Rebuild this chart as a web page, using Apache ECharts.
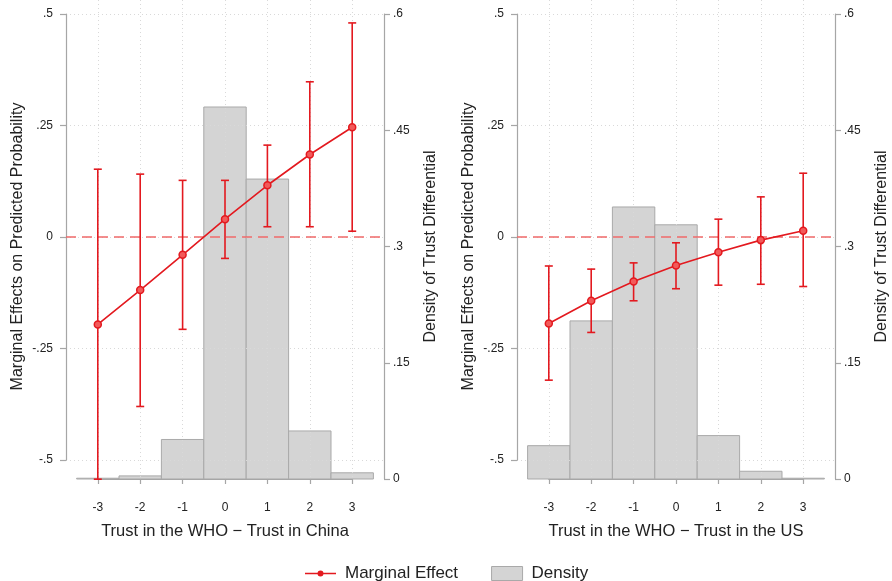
<!DOCTYPE html>
<html>
<head>
<meta charset="utf-8">
<script src="https://cdn.jsdelivr.net/npm/echarts@6/dist/echarts.min.js"></script>
<style>
  html, body { margin: 0; padding: 0; background: #fff; }
  #main { width: 892px; height: 581px; }
</style>
</head>
<body>
<div id="main"></div>
<script>
// trust differential categories (x)
var xValues = [-3, -2, -1, 0, 1, 2, 3];

// panel 1: WHO - China
var chinaEffect = [-0.196, -0.119, -0.040, 0.040, 0.116, 0.185, 0.246];
var chinaLower = [-0.543, -0.380, -0.207, -0.048, 0.023, 0.023, 0.013];
var chinaUpper = [0.152, 0.141, 0.127, 0.127, 0.206, 0.348, 0.480];
var chinaDensity = [0.001, 0.004, 0.051, 0.480, 0.387, 0.062, 0.008];

// panel 2: WHO - US
var usEffect = [-0.194, -0.143, -0.100, -0.064, -0.034, -0.007, 0.014];
var usLower = [-0.321, -0.214, -0.143, -0.116, -0.108, -0.106, -0.111];
var usUpper = [-0.065, -0.072, -0.058, -0.013, 0.040, 0.090, 0.143];
var usDensity = [0.043, 0.204, 0.351, 0.328, 0.056, 0.010, 0.001];

// tick values
var leftTicks = [-0.5, -0.25, 0, 0.25, 0.5];
var rightTicks = [0, 0.15, 0.3, 0.45, 0.6];
var xTicks = [-3, -2, -1, 0, 1, 2, 3];

var xTitles = ["Trust in the WHO \u2212 Trust in China", "Trust in the WHO \u2212 Trust in the US"];

var RED = "#e3191f";
var AXIS = "#a6a6a6";
var TEXT = "#222";
var FONT = "Liberation Sans, Arial, sans-serif";

function fmt(v) {
  v = Number(v.toFixed(2));
  if (v === 0) return "0";
  return String(v).replace("0.", ".");
}

var panels = [
  { left: 66, effect: chinaEffect, lower: chinaLower, upper: chinaUpper, density: chinaDensity },
  { left: 517, effect: usEffect, lower: usLower, upper: usUpper, density: usDensity }
];

var plotW = 318, plotTop = 14, plotH = 465;
var xMin = -3.75, xMax = 3.75;
var effMax = leftTicks[leftTicks.length - 1];
var effMin = leftTicks[0] - (effMax - leftTicks[0]) * 19 / 446;

var grid = [], xAxis = [], yAxis = [], series = [];

panels.forEach(function (p, i) {
  var gx = 3 * i, gy = 4 * i;
  var xl = p.left + (xTicks[0] - xMin) / (xMax - xMin) * plotW;
  var xw = (xTicks[xTicks.length - 1] - xTicks[0]) / (xMax - xMin) * plotW;

  grid.push({ left: p.left, top: plotTop, width: plotW, height: plotH });
  grid.push({ left: p.left, top: plotTop, width: plotW, height: 446 });
  grid.push({ left: xl, top: 0, width: xw, height: plotTop + plotH });

  // data grid x (hidden)
  xAxis.push({ gridIndex: gx, type: "value", min: xMin, max: xMax, show: false });
  // left decor grid x (hidden)
  xAxis.push({ gridIndex: gx + 1, type: "value", min: 0, max: 1, show: false });
  // visible x axis
  xAxis.push({
    gridIndex: gx + 2, type: "value", min: xTicks[0], max: xTicks[xTicks.length - 1], interval: 1,
    offset: 12, z: 2,
    axisLine: { lineStyle: { color: AXIS, width: 1.2 } },
    axisTick: { show: true, length: 5, lineStyle: { color: AXIS, width: 1.2 } },
    axisLabel: { color: TEXT, fontSize: 12, fontFamily: FONT, margin: 11 },
    splitLine: { show: true, lineStyle: { color: "#d9d9d9", type: [1, 3], width: 1 } },
    name: xTitles[i], nameLocation: "middle", nameGap: 32,
    nameTextStyle: { color: TEXT, fontSize: 16.5, fontFamily: FONT }
  });

  // marginal effect axis (carries title only)
  yAxis.push({
    gridIndex: gx, type: "value", min: effMin, max: effMax, position: "left",
    axisLine: { show: false }, axisTick: { show: false }, axisLabel: { show: false },
    splitLine: { show: false },
    name: "Marginal Effects on Predicted Probability", nameLocation: "middle", nameGap: 40,
    nameTextStyle: { color: TEXT, fontSize: 16, fontFamily: FONT }
  });
  // density axis (right)
  yAxis.push({
    gridIndex: gx, type: "value", min: rightTicks[0], max: rightTicks[rightTicks.length - 1],
    interval: 0.15, position: "right", z: 2,
    axisLine: { show: true, lineStyle: { color: AXIS, width: 1.2 } },
    axisTick: { show: true, length: 6, lineStyle: { color: AXIS, width: 1.2 } },
    axisLabel: { color: TEXT, fontSize: 12, fontFamily: FONT, margin: 9, formatter: fmt },
    splitLine: { show: false },
    name: "Density of Trust Differential", nameLocation: "middle", nameGap: 39,
    nameTextStyle: { color: TEXT, fontSize: 16, fontFamily: FONT }
  });
  // visible left axis
  yAxis.push({
    gridIndex: gx + 1, type: "value", min: leftTicks[0], max: effMax, interval: 0.25,
    position: "left", z: 2,
    axisLine: { show: true, lineStyle: { color: AXIS, width: 1.2 } },
    axisTick: { show: true, length: 6, lineStyle: { color: AXIS, width: 1.2 } },
    axisLabel: { color: TEXT, fontSize: 12, fontFamily: FONT, margin: 13, formatter: fmt },
    splitLine: { show: true, lineStyle: { color: "#d9d9d9", type: [1, 3], width: 1 } }
  });
  yAxis.push({ gridIndex: gx + 2, type: "value", min: 0, max: 1, show: false });

  // point estimates
  series.push({
    name: "Marginal Effect", type: "line", xAxisIndex: gx, yAxisIndex: gy, z: 4,
    symbol: "circle", symbolSize: 7,
    lineStyle: { color: RED, width: 1.6 },
    itemStyle: { color: "#f25a5a", borderColor: RED, borderWidth: 1.5 },
    data: xValues.map(function (x, k) { return [x, p.effect[k]]; }),
    markLine: {
      silent: true, symbol: "none", label: { show: false }, z: 3,
      lineStyle: { color: "#f06a6a", type: [10, 6], width: 1.6 },
      data: [{ yAxis: 0 }]
    }
  });

  // density bars
  series.push({
    name: "Density", type: "custom", xAxisIndex: gx, yAxisIndex: gy + 1, z: 1,
    itemStyle: { color: "#d4d4d4", borderColor: "#a9a9a9" },
    data: xValues.map(function (x, k) { return [x, p.density[k]]; }),
    renderItem: function (params, api) {
      var x = api.value(0), d = api.value(1);
      var a = api.coord([x - 0.5, d]);
      var b = api.coord([x + 0.5, 0]);
      return {
        type: "rect",
        shape: { x: a[0], y: a[1], width: b[0] - a[0], height: b[1] - a[1] },
        style: { fill: "#d4d4d4", stroke: "#a9a9a9", lineWidth: 1 }
      };
    }
  });

  // confidence intervals
  series.push({
    name: "Marginal Effect", type: "custom", xAxisIndex: gx, yAxisIndex: gy, z: 3, clip: false,
    itemStyle: { color: RED },
    data: xValues.map(function (x, k) { return [x, p.lower[k], p.upper[k]]; }),
    renderItem: function (params, api) {
      var lo = api.coord([api.value(0), api.value(1)]);
      var hi = api.coord([api.value(0), api.value(2)]);
      var cw = 4;
      var st = { stroke: RED, lineWidth: 1.6 };
      return {
        type: "group",
        children: [
          { type: "line", shape: { x1: lo[0], y1: lo[1], x2: hi[0], y2: hi[1] }, style: st },
          { type: "line", shape: { x1: lo[0] - cw, y1: lo[1], x2: lo[0] + cw, y2: lo[1] }, style: st },
          { type: "line", shape: { x1: hi[0] - cw, y1: hi[1], x2: hi[0] + cw, y2: hi[1] }, style: st }
        ]
      };
    }
  });
});

// legend glyph: short line with a small circle in the middle
var lineDotIcon = "path://M0,2.2L31,2.2L31,3.8L0,3.8Z M12.5,3A3,3 0 1,1 18.5,3A3,3 0 1,1 12.5,3Z";

var chart = echarts.init(document.getElementById("main"), null, { renderer: "canvas" });
chart.setOption({
  animation: false,
  backgroundColor: "#fff",
  textStyle: { fontFamily: FONT },
  grid: grid,
  xAxis: xAxis,
  yAxis: yAxis,
  legend: {
    left: 300, top: 560,
    itemWidth: 31, itemHeight: 14, itemGap: 33,
    textStyle: { color: TEXT, fontSize: 17, fontFamily: FONT, padding: [0, 0, 0, 4] },
    data: [
      { name: "Marginal Effect", icon: lineDotIcon, itemStyle: { color: RED, borderWidth: 0 } },
      { name: "Density", icon: "rect", itemStyle: { color: "#d4d4d4", borderColor: "#a9a9a9", borderWidth: 1 } }
    ]
  },
  series: series
});
</script>
</body>
</html>
